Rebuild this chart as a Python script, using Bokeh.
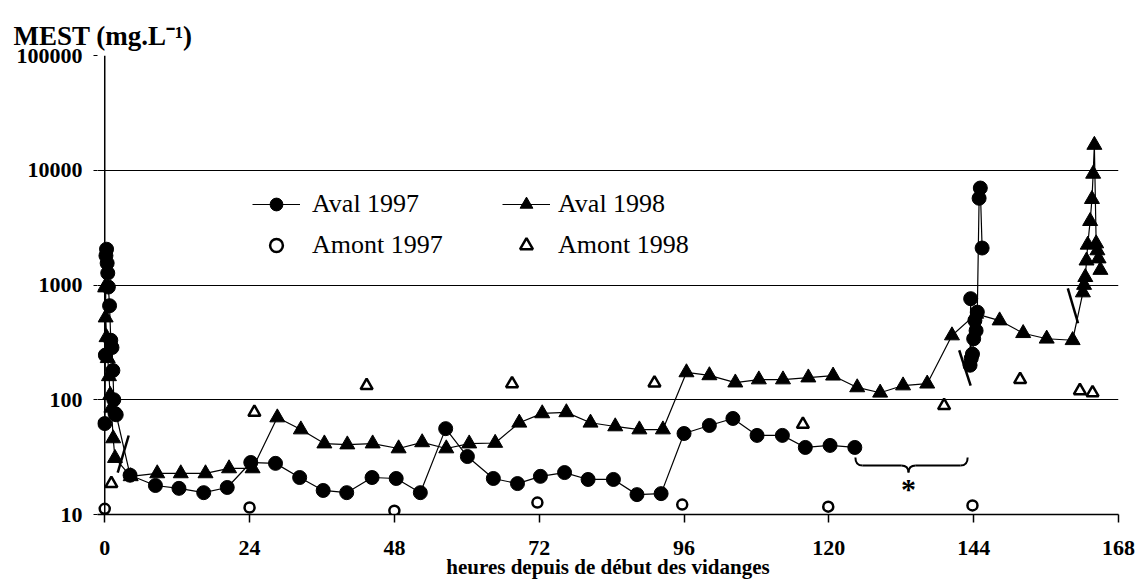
import math
from bokeh.plotting import figure
from bokeh.models import (Range1d, FixedTicker, NumeralTickFormatter, Legend,
                          LegendItem, Span, Label)
from bokeh.embed import file_html
from bokeh.resources import INLINE

NAN = float("nan")

# ---------------- data (hours since start of drawdown, MEST mg/L) ----------------
aval97_h = [0.0, 0.1, 0.2, 0.3, 0.4, 0.5, 0.6, 0.8, 1.0, 1.2, 1.35, 1.5, 1.7, 1.9,
            4.2, 8.4, 12.3, 16.4, 20.3, 24.2, 28.3, 32.3, 36.2, 40.1, 44.3, 48.3,
            52.3, 56.5, 60.1, 64.4, 68.4, 72.2, 76.2, 80.1, 84.3, 88.2, 92.2, 96.0,
            100.2, 104.1, 108.1, 112.3, 116.1, 120.2, 124.3, NAN,
            143.4, 143.5, 143.6, 143.8, 144.0, 144.2, 144.4, 144.6, 144.9, 145.1, 145.4]
aval97_v = [62, 245, 1800, 2050, 1550, 1270, 960, 660, 330, 285, 180, 100, 76, 74,
            22, 17.9, 16.9, 15.5, 17.2, 28.4, 27.9, 21, 16.2, 15.5, 21, 20.6,
            15.5, 56, 32, 20.6, 18.6, 21.5, 23.2, 20.2, 20.2, 14.9, 15.2, 50.8,
            59.7, 68.7, 48.9, 48.9, 38.4, 40, 38.4, NAN,
            200, 760, 230, 250, 340, 490, 400, 580, 5700, 7000, 2100]

aval98_h = [0.0, 0.15, 0.3, 0.5, 0.7, 0.9, 1.1, 1.4, 1.7, 4.3,
            8.7, 12.6, 16.7, 20.6, 24.5, 28.6, 32.5, 36.4, 40.2, 44.4, 48.7,
            52.6, 56.6, 60.4, 64.7, 68.7, 72.5, 76.5, 80.5, 84.6, 88.6, 92.5,
            96.4, 100.2, 104.5, 108.4, 112.4, 116.6, 120.7, 124.7, 128.5, 132.3,
            136.3, 140.4, 144.4, 148.3, 152.2, 156.1, 160.4,
            162.1, 162.3, 162.5, 162.7, 162.9, 163.3, 163.6, 163.8, 164.0,
            164.3, 164.5, 164.7, 165.0]
aval98_v = [950, 520, 350, 230, 160, 110, 85, 46, 31, 21.5,
            22.8, 22.8, 22.8, 25.2, 25.2, 70, 55, 41.5, 40.7, 41.5, 37.6,
            42.5, 37.6, 41.5, 42, 63, 76, 77.6, 63, 58.5, 55, 55,
            173, 163, 141, 150, 150, 156, 162, 128, 115, 133,
            138, 363, 560, 490, 380, 340, 330,
            860, 1000, 1170, 1630, 2240, 3600, 5600, 9300, 16600,
            2300, 2000, 1700, 1350]

amont97_h = [0.0, 24.0, 48.0, 71.7, 95.7, 119.9, 143.8]
amont97_v = [11.2, 11.5, 10.8, 12.7, 12.2, 11.7, 12.0]

amont98_h = [1.1, 24.8, 43.4, 67.5, 91.1, 115.7, 139.1, 151.7, 161.6, 163.7]
amont98_v = [18.6, 77.6, 133, 138, 140, 61, 89, 150, 120, 115]

x_ticks = [0, 24, 48, 72, 96, 120, 144, 168]
y_ticks = [10, 100, 1000, 10000, 100000]

# axis-break marks drawn on the curves
slash_x0 = [2.15, 141.6, 159.6]
slash_y0 = [23.2, 270, 935]
slash_x1 = [3.97, 143.5, 161.3]
slash_y1 = [48.8, 133, 464]

# brace (gap in 1997 series) and its asterisk
brace_left, brace_right, brace_mid_x = 124.4, 143.0, 133.2
brace_top, brace_bar, brace_tip = 31.4, 26.7, 23.2
brace_curl = 1.2
star_y = 16.8

FONT = "Liberation Serif"

# ---------------- figure ----------------
p = figure(width=1137, height=585,
           x_range=Range1d(-1.2, 168), y_range=Range1d(10, 100000),
           y_axis_type="log", output_backend="svg", toolbar_location=None,
           min_border_left=97, min_border_right=19,
           min_border_top=55, min_border_bottom=71,
           title="MEST (mg.L\u207b\u00b9)")
p.outline_line_color = None
p.background_fill_color = "white"
p.border_fill_color = "white"

p.title.align = "left"
p.title.offset = -84
p.title.standoff = 10
p.title.text_font = FONT
p.title.text_font_style = "bold"
p.title.text_font_size = "27px"
p.title.text_color = "black"

p.xgrid.visible = False
p.ygrid.ticker = FixedTicker(ticks=y_ticks)
p.ygrid.grid_line_color = "black"
p.ygrid.grid_line_width = 1

xa = p.xaxis[0]
xa.ticker = FixedTicker(ticks=x_ticks)
xa.axis_line_color = "black"
xa.axis_line_width = 1.5
xa.major_tick_out = 8
xa.major_tick_in = 0
xa.major_tick_line_color = "black"
xa.major_tick_line_width = 1.5
xa.minor_tick_line_color = None
xa.major_label_standoff = 18
xa.major_label_text_font = FONT
xa.major_label_text_font_style = "bold"
xa.major_label_text_font_size = "22px"
xa.major_label_text_color = "black"
xa.axis_label = "heures depuis de début des vidanges"
xa.axis_label_standoff = -3
xa.axis_label_text_font = FONT
xa.axis_label_text_font_style = "bold"
xa.axis_label_text_font_size = "21px"
xa.axis_label_text_color = "black"

ya = p.yaxis[0]
ya.ticker = FixedTicker(ticks=y_ticks)
ya.formatter = NumeralTickFormatter(format="0")
ya.axis_line_color = None
ya.major_tick_out = 4
ya.major_tick_in = 0
ya.major_tick_line_color = "black"
ya.minor_tick_line_color = None
ya.major_label_standoff = 11
ya.major_label_text_font = FONT
ya.major_label_text_font_style = "bold"
ya.major_label_text_font_size = "22px"
ya.major_label_text_color = "black"

# vertical axis line at x = 0
p.add_layout(Span(location=0, dimension="height", line_color="black", line_width=1.5))

# ---------------- series ----------------
l97 = p.line(aval97_h, aval97_v, line_color="black", line_width=1.2)
s97 = p.scatter(aval97_h, aval97_v, marker="circle", size=14,
                fill_color="black", line_color="black")
l98 = p.line(aval98_h, aval98_v, line_color="black", line_width=1.2)
s98 = p.scatter(aval98_h, aval98_v, marker="triangle", size=15,
                fill_color="black", line_color="black")
a97 = p.scatter(amont97_h, amont97_v, marker="circle", size=10,
                fill_color="white", line_color="black", line_width=2.5)
a98 = p.scatter(amont98_h, amont98_v, marker="triangle", size=12,
                fill_color="white", line_color="black", line_width=2.5)

p.segment(slash_x0, slash_y0, slash_x1, slash_y1, line_color="black", line_width=2.5)

# brace
bl, br, bm = brace_left, brace_right, brace_mid_x
c = brace_curl
p.quadratic(x0=[bl, bm - c, bm, br - c], y0=[brace_top, brace_bar, brace_tip, brace_bar],
            x1=[bl + c, bm, bm + c, br], y1=[brace_bar, brace_tip, brace_bar, brace_top],
            cx=[bl, bm, bm, br], cy=[brace_bar, brace_bar, brace_bar, brace_bar],
            line_color="black", line_width=2)
p.segment([bl + c, bm + c], [brace_bar, brace_bar], [bm - c, br - c], [brace_bar, brace_bar],
          line_color="black", line_width=2)
p.add_layout(Label(x=bm, y=star_y, text="*", text_align="center", text_baseline="middle",
                   text_font=FONT, text_font_style="bold", text_font_size="30px",
                   text_color="black"))

# ---------------- legends ----------------
def make_legend(items, x, standoff):
    lg = Legend(items=items, location=(x, 253), orientation="vertical",
                padding=0, margin=0, spacing=9, glyph_width=48, glyph_height=32,
                label_standoff=standoff, label_text_font=FONT,
                label_text_font_size="26px", label_text_color="black",
                background_fill_alpha=0, border_line_alpha=0)
    return lg

leg1 = make_legend([LegendItem(label="Aval 1997", renderers=[l97, s97]),
                    LegendItem(label="Amont 1997", renderers=[a97])], 155, 12)
leg2 = make_legend([LegendItem(label="Aval 1998", renderers=[l98, s98]),
                    LegendItem(label="Amont 1998", renderers=[a98])], 405, 8)
p.add_layout(leg1)
p.add_layout(leg2)

open("out.html", "w").write(file_html(p, INLINE))
